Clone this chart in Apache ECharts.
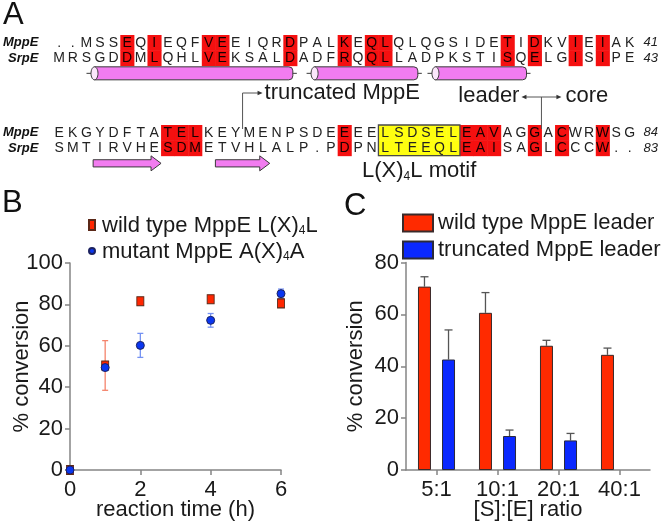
<!DOCTYPE html>
<html><head><meta charset="utf-8">
<script src="https://cdn.jsdelivr.net/npm/echarts@6/dist/echarts.min.js"></script>
<style>html,body{margin:0;padding:0;background:#fff}#c{width:661px;height:526px}</style>
</head><body><div id="c"></div>
<script>
// ---------- Panel A data ----------
const mppe1 = "..MSSEQIEQFVEEIQRDPALKEQLQLQGSIDETIDKVIEIAK";
const srpe1 = "MRSGDDMLQHLVEKSALDADFRQQLLADPKSTISQELGISIPE";
const mppe2 = "EKGYDFTATELKEYMENPSDEEEELSDSELEAVAGGACWRWSG";
const srpe2 = "SMTIRVHESDMETVHLALP.PDPNLTEEQLEAISAGLCCCW..";
const seqNames = ["MppE", "SrpE", ""];
const endNumbers1 = ["41", "43", ""];
const endNumbers2 = ["84", "83", ""];
const identical1 = [6, 8, 12, 13, 18, 22, 24, 25, 34, 36, 39, 41];
const identical2 = [9, 10, 11, 22, 31, 32, 33, 36, 38, 41];
const motifCols = [25, 30];
const helices = [[3.6, 18.2], [19.8, 27.4], [28.7, 35.4]];
const strands = [[3.5, 8.5], [12.5, 16.5]];
const truncCol = 14.5;
const leaderCoreCol = 36.5;
const motifLabelCol = 27.5;

// ---------- Panel B data ----------
const timeH = [0, 1, 2, 4, 6];
const wtConv = [0, 50.5, 81.5, 82.5, 80.5];
const wtErr = [0, 12, 1.5, 1.2, 1.5];
const mutConv = [0, 49.5, 60.2, 72.3, 85.2];
const mutErr = [0, 1.5, 5.8, 3.3, 2.2];

// ---------- Panel C data ----------
const ratios = ["5:1", "10:1", "20:1", "40:1"];
const wtLeader = [70.7, 60.6, 47.9, 44.4];
const wtLeaderErr = [3.8, 7.8, 2.1, 2.6];
const truncLeader = [42.6, 13.1, 11.4, null];
const truncLeaderErr = [11.4, 2.3, 2.7, null];

const FF = '"Liberation Sans", Arial, Helvetica, sans-serif';
const AXC = '#858585';
const TXC = '#1a1a1a';
const PINK = '#f27cf0';
const EDGE = '#3a3a3a';

function buildCells(top, bottom, identical, withMotif) {
  const cells = [], chars = [];
  [top, bottom].forEach(function (s, row) {
    for (let i = 0; i < s.length; i++) {
      const col = i + 1;
      let t = 0;
      if (identical.indexOf(col) >= 0) t = 1;
      if (withMotif && col >= motifCols[0] && col <= motifCols[1]) t = 2;
      cells.push([col, row, t]);
      chars.push(s[i]);
    }
  });
  return { cells: cells, chars: chars };
}
const block1 = buildCells(mppe1, srpe1, identical1, false);
const block2 = buildCells(mppe2, srpe2, identical2, true);

function residueRenderer(chars) {
  return function (params, api) {
    const col = api.value(0), row = api.value(1), t = api.value(2);
    const p = api.coord([col, row]);
    const cw = api.size([1, 0])[0];
    const rh = api.size([0, 1])[1];
    const children = [];
    if (t === 1 || t === 2) {
      children.push({ type: 'rect', shape: { x: p[0] - cw / 2, y: p[1] - rh / 2, width: cw + 0.5, height: rh + 0.5 },
        style: { fill: t === 1 ? '#f51010' : '#ffff10' } });
    }
    children.push({ type: 'text', style: { text: chars[params.dataIndex], x: p[0], y: p[1] + 0.5, align: 'center', verticalAlign: 'middle',
      fontSize: 14, fontFamily: FF, fill: t === 1 ? '#160000' : '#222' } });
    return { type: 'group', children: children };
  };
}

function helixRenderer(params, api) {
  const a = api.coord([api.value(0), 2]);
  const b = api.coord([api.value(1), 2]);
  const y = a[1], h = 13;
  const x0 = a[0], x1 = b[0];
  const st = { stroke: EDGE, lineWidth: 1 };
  return { type: 'group', children: [
    { type: 'line', shape: { x1: x0 - 8, y1: y, x2: x0, y2: y }, style: st },
    { type: 'rect', shape: { x: x0, y: y - h / 2, width: x1 - x0, height: h, r: [0, 4, 4, 0] }, style: { fill: PINK, stroke: EDGE, lineWidth: 1 } },
    { type: 'ellipse', shape: { cx: x0, cy: y, rx: 3.5, ry: h / 2 }, style: { fill: '#fbe6fb', stroke: EDGE, lineWidth: 1 } },
    { type: 'line', shape: { x1: x1, y1: y, x2: x1 + 4, y2: y }, style: st }
  ] };
}

function strandRenderer(params, api) {
  const a = api.coord([api.value(0), 2]);
  const b = api.coord([api.value(1), 2]);
  const y = a[1], x0 = a[0], x1 = b[0];
  const bh = 3.6, hh = 7.5, hl = 10;
  return { type: 'polygon', shape: { points: [[x0, y - bh], [x1 - hl, y - bh], [x1 - hl, y - hh], [x1, y], [x1 - hl, y + hh], [x1 - hl, y + bh], [x0, y + bh]] },
    style: { fill: PINK, stroke: EDGE, lineWidth: 1 } };
}

function motifBoxRenderer(params, api) {
  const a = api.coord([api.value(0) - 0.5, 0]);
  const b = api.coord([api.value(1) + 0.5, 1]);
  const rh = api.size([0, 1])[1];
  return { type: 'rect', shape: { x: a[0], y: a[1] - rh / 2, width: b[0] - a[0], height: b[1] - a[1] + rh },
    style: { fill: null, stroke: '#4a4a4a', lineWidth: 1.3 } };
}

const annStyle = { stroke: '#555', lineWidth: 1 };
function truncRenderer(params, api) {
  const p = api.coord([api.value(0), 0]);
  const rh = api.size([0, 1])[1];
  const top = p[1] - rh / 2, x = p[0], yH = top - 32;
  return { type: 'group', children: [
    { type: 'line', shape: { x1: x, y1: top + 4, x2: x, y2: yH }, style: annStyle },
    { type: 'line', shape: { x1: x, y1: yH, x2: x + 16, y2: yH }, style: annStyle },
    { type: 'polygon', shape: { points: [[x + 15, yH - 2.3], [x + 20, yH], [x + 15, yH + 2.3]] }, style: { fill: '#333' } },
    { type: 'text', style: { text: 'truncated MppE', x: x + 22, y: yH, align: 'left', verticalAlign: 'middle', fontSize: 22, fontFamily: FF, fill: TXC } }
  ] };
}
function leaderRenderer(params, api) {
  const p = api.coord([api.value(0), 0]);
  const rh = api.size([0, 1])[1];
  const top = p[1] - rh / 2, x = p[0], yH = top - 28;
  return { type: 'group', children: [
    { type: 'line', shape: { x1: x, y1: top + 4, x2: x, y2: yH }, style: annStyle },
    { type: 'line', shape: { x1: x - 16, y1: yH, x2: x + 16, y2: yH }, style: annStyle },
    { type: 'polygon', shape: { points: [[x - 15, yH - 2.3], [x - 20, yH], [x - 15, yH + 2.3]] }, style: { fill: '#333' } },
    { type: 'polygon', shape: { points: [[x + 15, yH - 2.3], [x + 20, yH], [x + 15, yH + 2.3]] }, style: { fill: '#333' } },
    { type: 'text', style: { text: 'leader', x: x - 22, y: yH - 1, align: 'right', verticalAlign: 'middle', fontSize: 22, fontFamily: FF, fill: TXC } },
    { type: 'text', style: { text: 'core', x: x + 24, y: yH - 1, align: 'left', verticalAlign: 'middle', fontSize: 22, fontFamily: FF, fill: TXC } }
  ] };
}
const subRich = {
  a: { fontSize: 22, fontFamily: FF, color: TXC, lineHeight: 24, verticalAlign: 'bottom' },
  s: { fontSize: 12, fontFamily: FF, color: TXC, lineHeight: 12, verticalAlign: 'bottom' }
};
function motifLabelRenderer(params, api) {
  const p = api.coord([api.value(0), 2]);
  return { type: 'text', style: { text: '{a|L(X)}{s|4}{a|L motif}', rich: subRich, x: p[0], y: p[1] + 7, align: 'center', verticalAlign: 'middle', fill: TXC } };
}

function errRenderer(color, capHalf, offset, upOnly) {
  return function (params, api) {
    const x = api.value(0), v = api.value(1), e = api.value(2);
    if (!e || isNaN(e)) return null;
    const lo = api.coord([x, upOnly ? v : v - e]);
    const hi = api.coord([x, v + e]);
    const cx = lo[0] + offset;
    const st = { stroke: color, lineWidth: 1.3 };
    const ch = [
      { type: 'line', shape: { x1: cx, y1: lo[1], x2: cx, y2: hi[1] }, style: st },
      { type: 'line', shape: { x1: cx - capHalf, y1: hi[1], x2: cx + capHalf, y2: hi[1] }, style: st }
    ];
    if (!upOnly) ch.push({ type: 'line', shape: { x1: cx - capHalf, y1: lo[1], x2: cx + capHalf, y2: lo[1] }, style: st });
    return { type: 'group', children: ch };
  };
}

const barW = 13, barGapRatio = 0.85;
const barOffset = barW * (1 + barGapRatio) / 2;

const axisCommon = {
  axisLine: { show: true, lineStyle: { color: AXC, width: 1.5 } },
  axisTick: { show: true, length: 5, lineStyle: { color: AXC, width: 1.5 } },
  axisLabel: { fontSize: 22, fontFamily: FF, color: TXC },
  splitLine: { show: false },
  nameTextStyle: { fontSize: 22, fontFamily: FF, color: TXC },
  nameLocation: 'middle',
  nameMoveOverlap: false
};
function ax(extra) { return Object.assign({}, JSON.parse(JSON.stringify(axisCommon)), extra); }

const seqAxisX = function (gi) {
  return { gridIndex: gi, type: 'value', min: 0.5, max: 43.5, show: false };
};
const nameAxis = function (gi, data) {
  return { gridIndex: gi, type: 'category', data: data, inverse: true, position: 'left',
    axisLine: { show: false }, axisTick: { show: false }, splitLine: { show: false },
    axisLabel: { interval: 0, hideOverlap: false, fontSize: 13, fontStyle: 'italic', fontWeight: 'bold', fontFamily: FF, color: '#111', margin: 14 } };
};
const numAxis = function (gi, data) {
  return { gridIndex: gi, type: 'category', data: data, inverse: true, position: 'right',
    axisLine: { show: false }, axisTick: { show: false }, splitLine: { show: false },
    axisLabel: { interval: 0, hideOverlap: false, fontSize: 13, fontStyle: 'italic', fontFamily: FF, color: '#222', margin: 7 } };
};

const legendFmt = function (name) {
  const i = name.indexOf('(X)4');
  if (i < 0) return '{a|' + name + '}';
  return '{a|' + name.slice(0, i + 3) + '}{s|4}{a|' + name.slice(i + 4) + '}';
};

const option = {
  animation: false,
  backgroundColor: '#fff',
  grid: [
    { left: 49, width: 589, top: 35, height: 46 },
    { left: 49, width: 589, top: 125, height: 46 },
    { left: 70, width: 211, top: 263, height: 207 },
    { left: 406, width: 244, top: 262.5, height: 207.5 }
  ],
  xAxis: [
    seqAxisX(0), seqAxisX(1),
    ax({ gridIndex: 2, type: 'value', min: 0, max: 6, interval: 2, name: 'reaction time (h)', nameGap: 29,
      axisLabel: { fontSize: 22, fontFamily: FF, color: TXC, margin: 9 } }),
    ax({ gridIndex: 3, type: 'category', data: ratios, name: '[S]:[E] ratio', nameGap: 29,
      axisTick: { show: true, alignWithLabel: true, length: 5, lineStyle: { color: AXC, width: 1.5 } },
      axisLabel: { interval: 0, fontSize: 22, fontFamily: FF, color: TXC, margin: 9 } })
  ],
  yAxis: [
    nameAxis(0, seqNames), numAxis(0, endNumbers1),
    nameAxis(1, seqNames), numAxis(1, endNumbers2),
    ax({ gridIndex: 2, type: 'value', min: 0, max: 100, interval: 20, name: '% conversion', nameGap: 37,
      axisLabel: { fontSize: 22, fontFamily: FF, color: TXC, margin: 7 } }),
    ax({ gridIndex: 3, type: 'value', min: 0, max: 80, interval: 20, name: '% conversion', nameGap: 39,
      axisLabel: { fontSize: 22, fontFamily: FF, color: TXC, margin: 7 } })
  ],
  legend: [
    { orient: 'vertical', left: 83, top: 210, itemWidth: 6, itemHeight: 10, itemGap: 4, selectedMode: false,
      formatter: legendFmt, textStyle: { rich: subRich, padding: [0, 0, 0, 2] },
      data: [{ name: 'wild type MppE L(X)4L', icon: 'rect' },
             { name: 'mutant MppE A(X)4A', icon: 'path://M5,0A5,5,0,1,1,5,10A5,5,0,1,1,5,0Z' }] },
    { orient: 'vertical', left: 397, top: 207, itemWidth: 30, itemHeight: 17, itemGap: 5, selectedMode: false,
      textStyle: { fontSize: 22, fontFamily: FF, color: TXC },
      data: [{ name: 'wild type MppE leader', icon: 'rect' }, { name: 'truncated MppE leader', icon: 'rect' }] }
  ],
  graphic: [
    { type: 'text', left: 3, top: 0, style: { text: 'A', fontSize: 31, fontFamily: FF, fill: '#111' } },
    { type: 'text', left: 2, top: 188, style: { text: 'B', fontSize: 31, fontFamily: FF, fill: '#111' } },
    { type: 'text', left: 344, top: 191, style: { text: 'C', fontSize: 31, fontFamily: FF, fill: '#111' } }
  ],
  series: [
    { type: 'custom', xAxisIndex: 0, yAxisIndex: 0, renderItem: residueRenderer(block1.chars), data: block1.cells, silent: true, clip: false },
    { type: 'custom', xAxisIndex: 0, yAxisIndex: 0, renderItem: helixRenderer, data: helices, silent: true, clip: false },
    { type: 'custom', xAxisIndex: 1, yAxisIndex: 2, renderItem: residueRenderer(block2.chars), data: block2.cells, silent: true, clip: false },
    { type: 'custom', xAxisIndex: 1, yAxisIndex: 2, renderItem: motifBoxRenderer, data: [motifCols], silent: true, clip: false },
    { type: 'custom', xAxisIndex: 1, yAxisIndex: 2, renderItem: strandRenderer, data: strands, silent: true, clip: false },
    { type: 'custom', xAxisIndex: 1, yAxisIndex: 2, renderItem: truncRenderer, data: [[truncCol, 0]], silent: true, clip: false },
    { type: 'custom', xAxisIndex: 1, yAxisIndex: 2, renderItem: leaderRenderer, data: [[leaderCoreCol, 0]], silent: true, clip: false },
    { type: 'custom', xAxisIndex: 1, yAxisIndex: 2, renderItem: motifLabelRenderer, data: [[motifLabelCol, 2]], silent: true, clip: false },
    { type: 'custom', xAxisIndex: 2, yAxisIndex: 4, renderItem: errRenderer('#f4846c', 3, 0, false),
      data: timeH.map(function (t, i) { return [t, wtConv[i], wtErr[i]]; }), clip: false, z: 2 },
    { type: 'custom', xAxisIndex: 2, yAxisIndex: 4, renderItem: errRenderer('#7592f2', 3, 0, false),
      data: timeH.map(function (t, i) { return [t, mutConv[i], mutErr[i]]; }), clip: false, z: 2 },
    { name: 'wild type MppE L(X)4L', type: 'scatter', xAxisIndex: 2, yAxisIndex: 4, symbol: 'rect', symbolSize: [7, 9],
      itemStyle: { color: '#ff2600', borderColor: '#5a2818', borderWidth: 1, opacity: 1 },
      data: timeH.map(function (t, i) { return [t, wtConv[i]]; }), clip: false, z: 3 },
    { name: 'mutant MppE A(X)4A', type: 'scatter', xAxisIndex: 2, yAxisIndex: 4, symbol: 'circle', symbolSize: 8,
      itemStyle: { color: '#0a36f0', borderColor: '#1c2260', borderWidth: 1, opacity: 1 },
      data: timeH.map(function (t, i) { return [t, mutConv[i]]; }), clip: false, z: 4 },
    { name: 'wild type MppE leader', type: 'bar', xAxisIndex: 3, yAxisIndex: 5, barWidth: barW, barGap: (barGapRatio * 100) + '%',
      itemStyle: { color: '#ff2a00', borderColor: '#3a2a2a', borderWidth: 1 }, data: wtLeader },
    { name: 'truncated MppE leader', type: 'bar', xAxisIndex: 3, yAxisIndex: 5, barWidth: barW,
      itemStyle: { color: '#0a28ff', borderColor: '#2a2a3a', borderWidth: 1 }, data: truncLeader },
    { type: 'custom', xAxisIndex: 3, yAxisIndex: 5, renderItem: errRenderer('#555', 4, -barOffset, true),
      data: ratios.map(function (r, i) { return [i, wtLeader[i], wtLeaderErr[i]]; }), clip: false, z: 1 },
    { type: 'custom', xAxisIndex: 3, yAxisIndex: 5, renderItem: errRenderer('#555', 4, barOffset, true),
      data: ratios.map(function (r, i) { return [i, truncLeader[i], truncLeaderErr[i]]; }).filter(function (d) { return d[1] != null; }), clip: false, z: 1 }
  ]
};

const chart = echarts.init(document.getElementById('c'), null, { renderer: 'canvas' });
chart.setOption(option);
</script>
</body></html>
